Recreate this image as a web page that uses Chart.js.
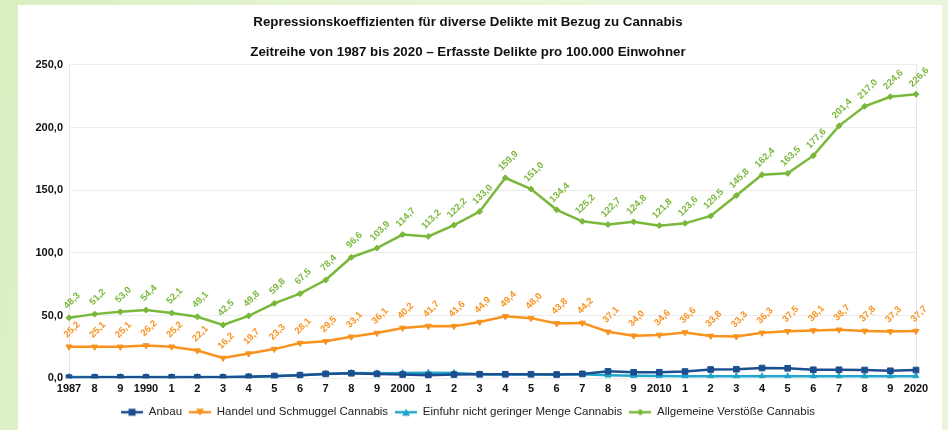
<!DOCTYPE html>
<html>
<head>
<meta charset="utf-8">
<script src="https://cdn.jsdelivr.net/npm/chart.js@4.4.1/dist/chart.umd.min.js"></script>
<style>
  html, body { margin: 0; padding: 0; }
  body {
    width: 948px; height: 430px; overflow: hidden; position: relative;
    background: linear-gradient(100deg, #d9efc0 0%, #e7f5d6 40%, #eaf6dc 100%);
    font-family: "Liberation Sans", Arial, sans-serif;
  }
  #panel { position: absolute; left: 18px; top: 5px; width: 924px; height: 425px; background: #fff; }
  #wrap { position: absolute; left: 0; top: 0; width: 948px; height: 430px; }
</style>
</head>
<body>
<div id="panel"></div>
<div id="wrap"><canvas id="chart"></canvas></div>
<script>
// Jahre 1987 - 2020, Achsenbeschriftung wie im Original abgekürzt
const years = ['1987','8','9','1990','1','2','3','4','5','6','7','8','9','2000','1','2','3','4','5','6','7','8','9','2010','1','2','3','4','5','6','7','8','9','2020'];

const anbau = [0.5,0.8,0.8,0.8,0.7,0.8,0.8,1.2,1.8,2.5,3.5,4.0,3.5,3.0,2.5,3.0,3.2,3.2,3.2,3.0,3.5,5.6,4.8,4.8,5.4,7.0,7.2,8.2,8.0,6.8,6.8,6.6,6.0,6.6];
const handel = [25.2,25.1,25.1,26.2,25.2,22.1,16.2,19.7,23.3,28.1,29.5,33.1,36.1,40.2,41.7,41.6,44.9,49.4,48.0,43.8,44.2,37.1,34.0,34.6,36.6,33.8,33.3,36.3,37.5,38.1,38.7,37.8,37.3,37.7];
const einfuhr = [1.0,1.0,1.0,1.0,1.0,1.0,1.0,1.2,1.6,2.4,3.6,4.2,4.0,4.2,4.4,4.3,3.2,3.0,3.0,3.0,3.2,2.4,2.0,1.8,1.6,1.6,1.6,1.6,1.6,1.6,1.6,1.6,1.6,1.6];
const allgemein = [48.3,51.2,53.0,54.4,52.1,49.1,42.5,49.8,59.8,67.5,78.4,96.6,103.9,114.7,113.2,122.2,133.0,159.9,151.0,134.4,125.2,122.7,124.8,121.8,123.6,129.5,145.8,162.4,163.5,177.6,201.4,217.0,224.6,226.6];

const yTicks = [0, 50, 100, 150, 200, 250];

const cBlue = '#1c4f8f', cOrange = '#f7931e', cCyan = '#1ea6cc', cGreen = '#7ab83c';
const font = '"Liberation Sans", Arial, sans-serif';

function fmt(v) { return v.toFixed(1).replace('.', ','); }

// Legendensymbol: Linie mit Markierung in der Mitte
function legendIcon(color, style) {
  const c = document.createElement('canvas');
  c.width = 22; c.height = 10;
  const g = c.getContext('2d');
  g.strokeStyle = color; g.fillStyle = color; g.lineWidth = 2.5;
  g.beginPath(); g.moveTo(0, 5); g.lineTo(22, 5); g.stroke();
  g.beginPath();
  if (style === 'rect') g.rect(7.5, 1.5, 7, 7);
  else if (style === 'down') { g.moveTo(7, 1.5); g.lineTo(15, 1.5); g.lineTo(11, 8.5); }
  else if (style === 'up') { g.moveTo(11, 1.5); g.lineTo(15, 8.5); g.lineTo(7, 8.5); }
  else { g.moveTo(11, 1.5); g.lineTo(14.5, 5); g.lineTo(11, 8.5); g.lineTo(7.5, 5); }
  g.fill();
  return c;
}

// Werte schräg über die Punkte schreiben
const valueLabels = {
  id: 'valueLabels',
  afterDatasetsDraw(chart) {
    const ctx = chart.ctx;
    chart.data.datasets.forEach((ds, i) => {
      if (!ds.showValues) return;
      const meta = chart.getDatasetMeta(i);
      ctx.save();
      ctx.fillStyle = ds.borderColor;
      ctx.font = 'bold 9.5px ' + font;
      ctx.textAlign = 'center';
      ctx.textBaseline = 'middle';
      meta.data.forEach((pt, j) => {
        ctx.save();
        ctx.translate(pt.x + 3, pt.y - 17);
        ctx.rotate(-Math.PI / 4);
        ctx.fillText(fmt(ds.data[j]), 0, 0);
        ctx.restore();
      });
      ctx.restore();
    });
  }
};

const ctx = document.getElementById('chart');
new Chart(ctx, {
  type: 'line',
  data: {
    labels: years,
    datasets: [
      { label: 'Anbau', data: anbau, borderColor: cBlue, backgroundColor: cBlue, pointStyle: 'rect', pointRadius: 4, icon: legendIcon(cBlue, 'rect') },
      { label: 'Handel und Schmuggel Cannabis', data: handel, borderColor: cOrange, backgroundColor: cOrange, pointStyle: 'triangle', rotation: 180, pointRadius: 3.5, showValues: true, icon: legendIcon(cOrange, 'down') },
      { label: 'Einfuhr nicht geringer Menge Cannabis', data: einfuhr, borderColor: cCyan, backgroundColor: cCyan, pointStyle: 'triangle', pointRadius: 3.5, icon: legendIcon(cCyan, 'up') },
      { label: 'Allgemeine Verstöße Cannabis', data: allgemein, borderColor: cGreen, backgroundColor: cGreen, pointStyle: 'rectRot', pointRadius: 3, showValues: true, icon: legendIcon(cGreen, 'diamond') }
    ]
  },
  options: {
    responsive: true,
    maintainAspectRatio: false,
    animation: false,
    elements: { line: { borderWidth: 2.5, tension: 0 } },
    layout: { padding: { left: 20, right: 32, top: 14, bottom: 2 } },
    scales: {
      x: {
        offset: false,
        grid: {
          color: c => (c.index === 0 || c.index === years.length - 1) ? '#e4e4e4' : 'rgba(0,0,0,0)',
          drawTicks: false
        },
        border: { display: false },
        ticks: { color: '#111', font: { size: 11, weight: 'bold', family: font }, maxRotation: 0, autoSkip: false, padding: 4 }
      },
      y: {
        min: 0, max: 250,
        afterBuildTicks: axis => { axis.ticks = yTicks.map(v => ({ value: v })); },
        afterFit: axis => { axis.width = 49; },
        grid: { color: '#ececec', drawTicks: false },
        border: { display: false },
        ticks: { color: '#111', font: { size: 11, weight: 'bold', family: font }, padding: 6, callback: v => fmt(v) }
      }
    },
    plugins: {
      title: {
        display: true,
        text: 'Repressionskoeffizienten für diverse Delikte mit Bezug zu Cannabis',
        color: '#111',
        font: { size: 13.3, weight: 'bold', family: font },
        padding: { top: 0, bottom: 14 }
      },
      subtitle: {
        display: true,
        text: 'Zeitreihe von 1987 bis 2020 – Erfasste Delikte pro 100.000 Einwohner',
        color: '#111',
        font: { size: 13.3, weight: 'bold', family: font },
        padding: { top: 0, bottom: 5 }
      },
      legend: {
        position: 'bottom',
        labels: {
          color: '#222',
          font: { size: 11.5, family: font },
          usePointStyle: true,
          pointStyleWidth: 22,
          padding: 7,
          generateLabels: chart => chart.data.datasets.map((ds, i) => ({
            text: ds.label, pointStyle: ds.icon, fontColor: '#222', datasetIndex: i, hidden: false, lineWidth: 0
          }))
        }
      },
      tooltip: { enabled: false }
    }
  },
  plugins: [valueLabels]
});
</script>
</body>
</html>
